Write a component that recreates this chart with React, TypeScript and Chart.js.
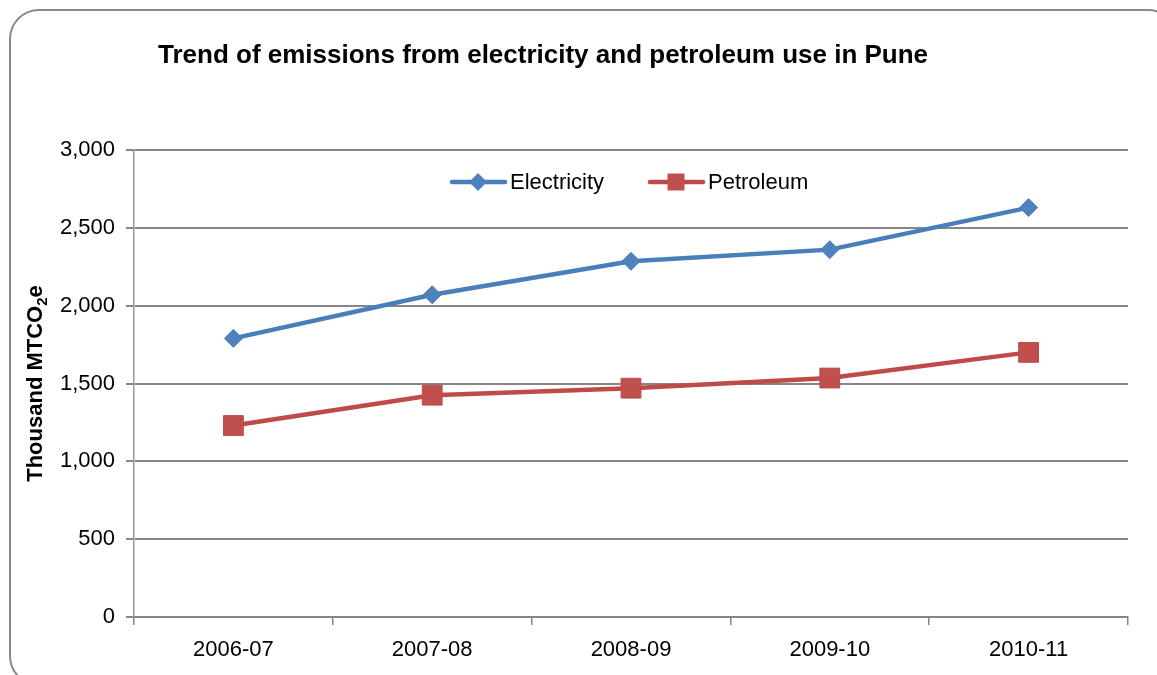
import { useEffect, useRef } from "react";
import { Chart, registerables } from "chart.js";

Chart.register(...registerables);

const periods = ["2006-07", "2007-08", "2008-09", "2009-10", "2010-11"];
const electricity = [1790, 2070, 2285, 2360, 2630];
const petroleum = [1230, 1425, 1470, 1535, 1700];
const yTicks = [0, 500, 1000, 1500, 2000, 2500, 3000];

const chartTitle = "Trend of emissions from electricity and petroleum use in Pune";
const yTitleMain = "Thousand MTCO";
const yTitleSub = "2";
const yTitleEnd = "e";

const FONT = "'Liberation Sans', Arial, Helvetica, sans-serif";
const BLUE_LINE = "#4A7EBB";
const BLUE_FILL = "#4F81BD";
const RED_LINE = "#BE4B48";
const RED_FILL = "#C0504D";
const GRID = "#868686";

// Title, in-plot legend and the rotated axis title (with subscript)
const decorations = {
  id: "decorations",
  afterDraw(chart: Chart) {
    const ctx = chart.ctx;
    ctx.save();

    // chart title
    ctx.fillStyle = "#000";
    ctx.font = `bold 26px ${FONT}`;
    ctx.textAlign = "left";
    ctx.textBaseline = "alphabetic";
    ctx.fillText(chartTitle, 158, 63);

    // legend
    const legendY = 182;
    const items = [
      { label: chart.data.datasets[0].label as string, x: 450, line: BLUE_LINE, fill: BLUE_FILL, shape: "diamond" },
      { label: chart.data.datasets[1].label as string, x: 648, line: RED_LINE, fill: RED_FILL, shape: "square" },
    ];
    ctx.font = `22px ${FONT}`;
    ctx.textBaseline = "middle";
    for (const it of items) {
      ctx.strokeStyle = it.line;
      ctx.lineWidth = 4.5;
      ctx.lineCap = "round";
      ctx.beginPath();
      ctx.moveTo(it.x + 2, legendY);
      ctx.lineTo(it.x + 55, legendY);
      ctx.stroke();
      const cx = it.x + 28;
      ctx.fillStyle = it.fill;
      ctx.beginPath();
      if (it.shape === "diamond") {
        ctx.moveTo(cx - 9, legendY);
        ctx.lineTo(cx, legendY - 9);
        ctx.lineTo(cx + 9, legendY);
        ctx.lineTo(cx, legendY + 9);
        ctx.closePath();
      } else {
        ctx.rect(cx - 8.5, legendY - 8.5, 17, 17);
      }
      ctx.fill();
      ctx.fillStyle = "#000";
      ctx.fillText(it.label, it.x + 60, legendY + 1);
    }

    // y-axis title, rotated, with a subscript
    const mainFont = `bold 22px ${FONT}`;
    const subFont = `bold 15px ${FONT}`;
    ctx.font = mainFont;
    const w1 = ctx.measureText(yTitleMain).width;
    const w3 = ctx.measureText(yTitleEnd).width;
    ctx.font = subFont;
    const w2 = ctx.measureText(yTitleSub).width;
    const total = w1 + w2 + w3;
    const cy = (chart.chartArea.top + chart.chartArea.bottom) / 2;
    ctx.translate(42, cy + total / 2);
    ctx.rotate(-Math.PI / 2);
    ctx.textBaseline = "alphabetic";
    ctx.textAlign = "left";
    ctx.font = mainFont;
    ctx.fillText(yTitleMain, 0, 0);
    ctx.font = subFont;
    ctx.fillText(yTitleSub, w1, 5);
    ctx.font = mainFont;
    ctx.fillText(yTitleEnd, w1 + w2, 0);

    ctx.restore();
  },
};

export default function App() {
  const canvasRef = useRef<HTMLCanvasElement | null>(null);

  useEffect(() => {
    if (!canvasRef.current) return;
    const chart = new Chart(canvasRef.current, {
      type: "line",
      data: {
        labels: periods,
        datasets: [
          {
            label: "Electricity",
            data: electricity,
            borderColor: BLUE_LINE,
            backgroundColor: BLUE_FILL,
            borderWidth: 4.5,
            pointStyle: "rectRot",
            pointRadius: 9,
            pointBorderWidth: 1,
            pointBorderColor: BLUE_LINE,
            pointBackgroundColor: BLUE_FILL,
            tension: 0,
          },
          {
            label: "Petroleum",
            data: petroleum,
            borderColor: RED_LINE,
            backgroundColor: RED_FILL,
            borderWidth: 4.5,
            pointStyle: "rect",
            pointRadius: 14,
            pointBorderWidth: 1,
            pointBorderColor: RED_LINE,
            pointBackgroundColor: RED_FILL,
            tension: 0,
          },
        ],
      },
      options: {
        animation: false,
        responsive: false,
        maintainAspectRatio: false,
        layout: { padding: { top: 150, left: 0, right: 29, bottom: 0 } },
        plugins: {
          legend: { display: false },
          title: { display: false },
          tooltip: { enabled: false },
        },
        scales: {
          x: {
            offset: true,
            grid: {
              offset: true,
              drawOnChartArea: false,
              drawTicks: true,
              tickLength: 8,
              color: GRID,
              lineWidth: 1.5,
            },
            border: { color: GRID, width: 2 },
            ticks: {
              color: "#000",
              font: { family: FONT, size: 22 },
              padding: 12,
              maxRotation: 0,
              autoSkip: false,
            },
            afterFit: (s: any) => {
              s.height = 58;
            },
          },
          y: {
            min: 0,
            max: 3000,
            afterBuildTicks: (s: any) => {
              s.ticks = yTicks.map((v) => ({ value: v }));
            },
            grid: { color: GRID, lineWidth: 2, tickLength: 8, drawTicks: true },
            border: { color: "#9a9a9a", width: 1.5 },
            ticks: {
              color: "#000",
              font: { family: FONT, size: 22 },
              padding: 11,
              callback: (v: any) => Number(v).toLocaleString("en-US"),
            },
            afterFit: (s: any) => {
              s.width = 134;
            },
          },
        },
      },
      plugins: [decorations],
    });
    return () => chart.destroy();
  }, []);

  return (
    <div
      style={{
        position: "fixed",
        left: 0,
        top: 0,
        width: 1157,
        height: 675,
        overflow: "hidden",
        background: "#fff",
      }}
    >
      <div
        style={{
          position: "absolute",
          left: 9,
          top: 9,
          width: 1169,
          height: 677,
          border: "2px solid #8a8a8a",
          borderRadius: 30,
          boxSizing: "border-box",
        }}
      />
      <canvas
        ref={canvasRef}
        width={1157}
        height={675}
        style={{ position: "absolute", left: 0, top: 0, width: 1157, height: 675 }}
      />
    </div>
  );
}
